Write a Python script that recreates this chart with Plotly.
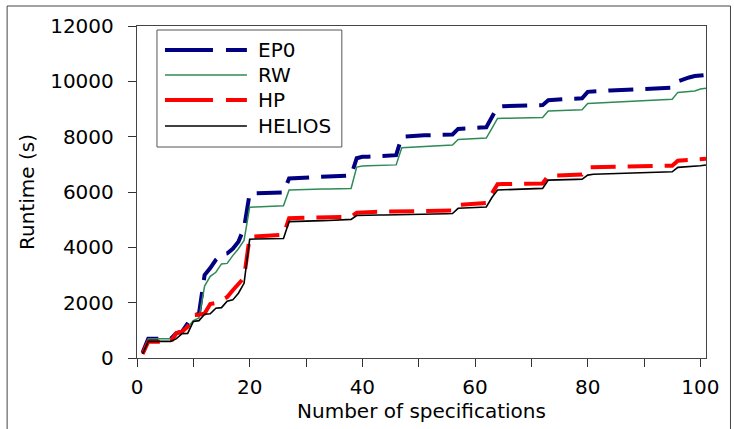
import plotly.graph_objects as go

# ---- data ----
series_names = ["EP0", "RW", "HP", "HELIOS"]
series_colors = ["#000080", "#2E8B57", "#FF0000", "#000000"]

EP0 = [200, 700, 700, 700, 700, 700, 900, 950, 1250, 1550,
       1600, 3000, 3250, 3550, 3750, 3780, 3950, 4200, 4700, 5950,
       5950, 5950, 5960, 5960, 5970, 5980, 6490, 6500, 6510, 6520,
       6530, 6540, 6550, 6560, 6570, 6575, 6580, 6600, 7220, 7270,
       7275, 7280, 7290, 7300, 7320, 7330, 8000, 8020, 8030, 8040,
       8050, 8055, 8060, 8070, 8075, 8080, 8280, 8300, 8320, 8325,
       8330, 8340, 8750, 9080, 9100, 9110, 9115, 9120, 9125, 9130,
       9135, 9140, 9320, 9330, 9340, 9350, 9360, 9370, 9390, 9620,
       9640, 9650, 9660, 9670, 9680, 9690, 9700, 9705, 9710, 9720,
       9730, 9740, 9750, 9760, 9770, 10000, 10080, 10140, 10190, 10210,
       10230]

RW = [200, 700, 700, 700, 700, 700, 900, 920, 1100, 1350,
      1450, 2600, 2950, 3100, 3400, 3420, 3700, 3950, 4250, 5450,
      5460, 5470, 5475, 5480, 5490, 5500, 6070, 6080, 6085, 6090,
      6095, 6100, 6105, 6110, 6115, 6120, 6125, 6130, 6900, 6940,
      6950, 6955, 6960, 6965, 6970, 6980, 7600, 7610, 7620, 7630,
      7640, 7650, 7660, 7670, 7680, 7700, 7900, 7910, 7920, 7930,
      7940, 7950, 8300, 8660, 8665, 8670, 8672, 8675, 8678, 8680,
      8685, 8690, 8930, 8940, 8945, 8950, 8955, 8960, 8970, 9200,
      9210, 9220, 9230, 9240, 9250, 9260, 9270, 9280, 9290, 9300,
      9310, 9320, 9330, 9340, 9350, 9600, 9620, 9630, 9650, 9720,
      9750]

HP = [150, 590, 590, 590, 590, 590, 900, 950, 1130, 1550,
      1560, 1610, 1950, 1990, 2100, 2200, 2450, 2650, 2900, 4380,
      4390, 4400, 4410, 4420, 4430, 4450, 5050, 5055, 5060, 5065,
      5070, 5075, 5080, 5085, 5090, 5095, 5100, 5110, 5250, 5270,
      5275, 5280, 5285, 5290, 5295, 5300, 5300, 5305, 5310, 5312,
      5315, 5318, 5320, 5322, 5325, 5330, 5530, 5550, 5560, 5570,
      5590, 5600, 5950, 6280, 6285, 6290, 6292, 6295, 6298, 6300,
      6305, 6310, 6590, 6600, 6605, 6610, 6615, 6620, 6630, 6890,
      6895, 6900, 6905, 6910, 6915, 6918, 6920, 6925, 6928, 6930,
      6935, 6938, 6940, 6945, 6950, 7130, 7150, 7160, 7170, 7185,
      7200]

HELIOS = [150, 600, 600, 600, 600, 600, 700, 880, 890, 1320,
          1350, 1580, 1600, 1800, 1820, 2050, 2100, 2340, 2700, 4290,
          4300, 4300, 4305, 4310, 4315, 4320, 4930, 4940, 4945, 4950,
          4955, 4960, 4965, 4970, 4980, 4990, 5000, 5010, 5150, 5160,
          5162, 5165, 5168, 5170, 5172, 5175, 5180, 5182, 5185, 5190,
          5195, 5200, 5205, 5210, 5215, 5220, 5410, 5420, 5430, 5440,
          5450, 5460, 5800, 6070, 6080, 6090, 6095, 6100, 6110, 6115,
          6120, 6130, 6430, 6440, 6445, 6450, 6452, 6455, 6460, 6610,
          6640, 6645, 6650, 6660, 6665, 6670, 6675, 6680, 6690, 6695,
          6700, 6705, 6710, 6720, 6730, 6890, 6900, 6910, 6920, 6950,
          6975]

series_values = [EP0, RW, HP, HELIOS]
series_widths = [4, 1.5, 4, 1.6]
series_dash = ["25px,12px", "solid", "25px,12px", "solid"]
legend_dash = ["48px,13px", "solid", "48px,13px", "solid"]

x_ticks = [0, 20, 40, 60, 80, 100]
y_ticks = [0, 2000, 4000, 6000, 8000, 10000, 12000]

FONT = "DejaVu Sans"

fig = go.Figure()
for name, vals, col, w, d in zip(series_names, series_values, series_colors,
                                  series_widths, series_dash):
    fig.add_trace(go.Scatter(
        x=list(range(1, len(vals) + 1)), y=vals, mode="lines", name=name,
        line=dict(color=col, width=w, dash=d), showlegend=False,
        hoverinfo="skip"))

# ---- layout ----
W, H = 734, 429
L, R, T, B = 137, 27.5, 26, 71
pw, ph = W - L - R, H - T - B

def px_x(p):
    return (p - L) / pw

def px_y(p):
    return (H - B - p) / ph

shapes = []
annotations = []

# outer figure frame
shapes.append(dict(type="rect", xref="paper", yref="paper",
                   x0=px_x(7), x1=px_x(731), y0=px_y(445), y1=px_y(6),
                   line=dict(color="#444", width=1), layer="above"))

# legend box
shapes.append(dict(type="rect", xref="paper", yref="paper",
                   x0=px_x(157), x1=px_x(342), y0=px_y(147), y1=px_y(30),
                   line=dict(color="#555", width=1), fillcolor="white",
                   layer="above"))
row_y = [50, 75, 100, 126]
for name, col, w, d, ry in zip(series_names, series_colors, series_widths,
                               legend_dash, row_y):
    shapes.append(dict(type="line", xref="paper", yref="paper",
                       x0=px_x(165), x1=px_x(247), y0=px_y(ry), y1=px_y(ry),
                       line=dict(color=col, width=w, dash=d), layer="above"))
    annotations.append(dict(xref="paper", yref="paper", x=px_x(256), y=px_y(ry),
                            text=name, showarrow=False, xanchor="left",
                            yanchor="middle",
                            font=dict(family=FONT, size=20, color="black")))

fig.update_layout(
    width=W, height=H,
    margin=dict(l=L, r=R, t=T, b=B, autoexpand=False),
    paper_bgcolor="white", plot_bgcolor="white",
    font=dict(family=FONT, size=20, color="black"),
    shapes=shapes, annotations=annotations,
    showlegend=False,
)
fig.update_xaxes(
    range=[0, 101], tickvals=x_ticks, ticktext=[str(v) for v in x_ticks],
    ticks="outside", ticklen=8, tickwidth=1, tickcolor="#333",
    minor=dict(dtick=10, tick0=0, ticks="outside", ticklen=8, tickcolor="#333"),
    showline=True, linecolor="#444", linewidth=1.2, mirror=True,
    showgrid=False, zeroline=False, ticklabelstandoff=3,
    title=dict(text="Number of specifications", standoff=5,
               font=dict(family=FONT, size=20)),
    automargin=False,
)
fig.update_yaxes(
    range=[0, 12000], tickvals=y_ticks, ticktext=[str(v) for v in y_ticks],
    ticks="outside", ticklen=8, tickwidth=1, tickcolor="#333",
    showline=True, linecolor="#444", linewidth=1.2, mirror=True,
    showgrid=False, zeroline=False, ticklabelstandoff=10,
    title=dict(text="Runtime (s)", standoff=10,
               font=dict(family=FONT, size=20)),
    automargin=False,
)

fig.write_html("out.html",
               config={"displayModeBar": False, "staticPlot": True},
               post_script="document.body.style.margin='0';"
                           "document.body.style.overflow='hidden';")
